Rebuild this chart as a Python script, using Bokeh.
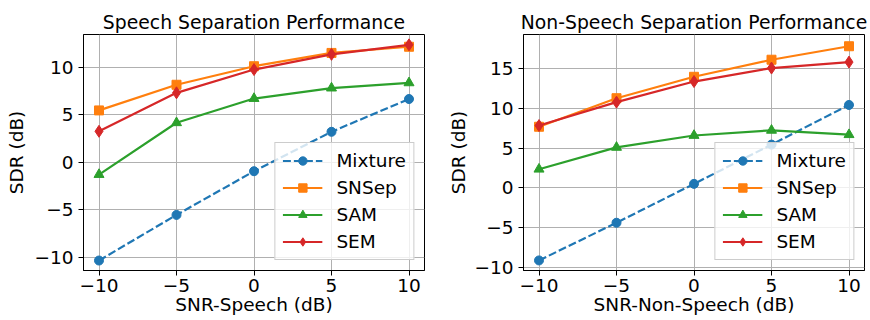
from bokeh.plotting import figure
from bokeh.layouts import row
from bokeh.models import Range1d, FixedTicker, Legend, LegendItem
from bokeh.embed import file_html
from bokeh.resources import INLINE

snr_levels = [-10, -5, 0, 5, 10]
x_tick_labels = {-10: "\u221210", -5: "\u22125", 0: "0", 5: "5", 10: "10"}

speech_mixture = [-10.35, -5.55, -0.95, 3.2, 6.65]
speech_snsep = [5.45, 8.15, 10.1, 11.5, 12.15]
speech_sam = [-1.3, 4.15, 6.7, 7.8, 8.35]
speech_sem = [3.25, 7.3, 9.75, 11.35, 12.35]

nonspeech_mixture = [-9.15, -4.4, 0.5, 5.45, 10.45]
nonspeech_snsep = [7.7, 11.3, 14.0, 16.15, 17.85]
nonspeech_sam = [2.35, 5.1, 6.6, 7.25, 6.7]
nonspeech_sem = [7.85, 10.8, 13.4, 15.1, 15.85]

series_names = ["Mixture", "SNSep", "SAM", "SEM"]
colors = ["#1f77b4", "#ff7f0e", "#2ca02c", "#d62728"]
markers = ["circle", "square", "triangle", "diamond"]
marker_sizes = [9, 9, 10, 12]
dashes = ["8 3", "solid", "solid", "solid"]

FONT = "DejaVu Sans"
FS = "18.5px"


def make_fig(title, xlabel, series, yrange, yticks, width, bl, br, ylab_standoff):
    p = figure(width=width, height=320, output_backend="svg", toolbar_location=None,
               x_range=Range1d(-11, 11), y_range=Range1d(*yrange),
               min_border_left=bl, min_border_right=br, min_border_top=34, min_border_bottom=50)
    p.title.text = title
    p.title.align = "center"
    p.title.text_font = FONT
    p.title.text_font_size = "18.8px"
    p.title.text_font_style = "normal"
    p.title.text_color = "black"
    p.title.standoff = 3
    p.outline_line_color = "black"
    p.outline_line_width = 1
    p.outline_line_alpha = 1

    for ax in (p.xaxis[0], p.yaxis[0]):
        ax.axis_label_text_font = FONT
        ax.axis_label_text_font_size = FS
        ax.axis_label_text_font_style = "normal"
        ax.axis_label_text_color = "black"
        ax.major_label_text_font = FONT
        ax.major_label_text_font_size = FS
        ax.major_label_text_color = "black"
        ax.major_tick_out = 5
        ax.major_tick_in = 0
        ax.minor_tick_line_color = None
        ax.axis_line_color = "black"
        ax.major_tick_line_color = "black"

    p.xaxis.axis_label = xlabel
    p.yaxis.axis_label = "SDR (dB)"
    p.xaxis.major_label_standoff = 3
    p.xaxis.axis_label_standoff = -1
    p.yaxis.major_label_standoff = 5
    p.yaxis.axis_label_standoff = ylab_standoff
    p.xaxis.ticker = FixedTicker(ticks=snr_levels)
    p.xaxis.major_label_overrides = x_tick_labels
    p.yaxis.ticker = FixedTicker(ticks=yticks)
    p.yaxis.major_label_overrides = {t: (str(t).replace("-", "\u2212")) for t in yticks}

    p.grid.grid_line_color = "#b0b0b0"
    p.grid.grid_line_width = 1
    p.xgrid.ticker = FixedTicker(ticks=snr_levels)
    p.ygrid.ticker = FixedTicker(ticks=yticks)

    items = []
    for name, vals, c, m, ms, d in zip(series_names, series, colors, markers, marker_sizes, dashes):
        ln = p.line(snr_levels, vals, line_color=c, line_width=2.2, line_dash=d)
        sc = p.scatter(snr_levels, vals, marker=m, size=ms, fill_color=c, line_color=c)
        items.append(LegendItem(label=name, renderers=[ln, sc]))

    leg = Legend(items=items, location="bottom_right")
    leg.label_text_font = FONT
    leg.label_text_font_size = FS
    leg.label_text_color = "black"
    leg.glyph_width = 40
    leg.glyph_height = 21
    leg.label_height = 21
    leg.label_standoff = 14
    leg.padding = 7
    leg.spacing = 6
    leg.margin = 10
    leg.border_line_color = "#cccccc"
    leg.border_line_alpha = 1
    leg.background_fill_alpha = 0.8
    p.add_layout(leg)
    return p


p1 = make_fig("Speech Separation Performance", "SNR-Speech (dB)",
              [speech_mixture, speech_snsep, speech_sam, speech_sem],
              (-11.4, 13.44), [-10, -5, 0, 5, 10], 435, 83, 11, 4)
p2 = make_fig("Non-Speech Separation Performance", "SNR-Non-Speech (dB)",
              [nonspeech_mixture, nonspeech_snsep, nonspeech_sam, nonspeech_sem],
              (-10.42, 19.33), [-10, -5, 0, 5, 10, 15], 435, 88, 6, 2)

p = row(p1, p2)
open("out.html", "w").write(file_html(p, INLINE))
